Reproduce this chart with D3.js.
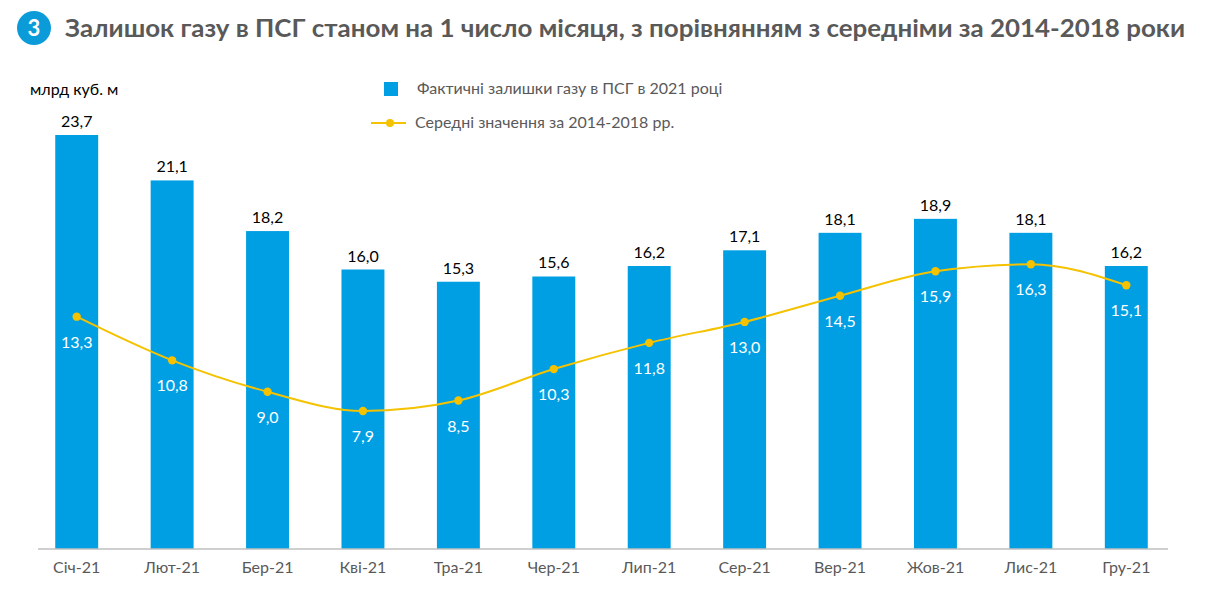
<!DOCTYPE html>
<html><head><meta charset="utf-8">
<script src="https://cdn.jsdelivr.net/npm/d3@7"></script>
<style>body{margin:0;background:#fff}svg{display:block}text{font-family:Lato,"Noto Sans",sans-serif}</style>
</head><body><svg id="c" width="1212" height="597"></svg>
<script>
const categories = ["Січ-21","Лют-21","Бер-21","Кві-21","Тра-21","Чер-21","Лип-21","Сер-21","Вер-21","Жов-21","Лис-21","Гру-21"];
const actual2021 = [23.7,21.1,18.2,16.0,15.3,15.6,16.2,17.1,18.1,18.9,18.1,16.2];
const avg2014_2018 = [13.3,10.8,9.0,7.9,8.5,10.3,11.8,13.0,14.5,15.9,16.3,15.1];
const seriesNames = ["Фактичні залишки газу в ПСГ в 2021 році","Середні значення за 2014-2018 рр."];
const titleText = "Залишок газу в ПСГ станом на 1 число місяця, з порівнянням з середніми за 2014-2018 роки";
const unitText = "млрд куб. м";

const svg = d3.select("#c");
const barColor = "#009FE3", lineColor = "#F5C200", gray = "#595959";
const fmt = v => d3.format(".1f")(v).replace(".", ",");

const x = d3.scaleBand().domain(categories).range([29,1174]).paddingInner(0.55).paddingOuter(0.275);
const y = d3.scaleLinear().domain([0,23.7]).range([549,135]);

// title
svg.append("circle").attr("cx",34).attr("cy",28).attr("r",17).attr("fill","#0A9BD8");
svg.append("text").attr("x",34).attr("y",36).attr("text-anchor","middle").attr("fill","#fff")
  .attr("font-size",22).attr("font-weight","bold").text("3");
svg.append("text").attr("x",65).attr("y",37).attr("fill",gray).attr("font-size",25).attr("font-weight","bold")
  .attr("textLength",1120).attr("lengthAdjust","spacingAndGlyphs").text(titleText);

svg.append("text").attr("x",30).attr("y",95).attr("font-size",16).attr("fill","#000").text(unitText);

// legend
svg.append("rect").attr("x",384).attr("y",82).attr("width",14).attr("height",14).attr("fill",barColor);
svg.append("text").attr("x",417).attr("y",94).attr("font-size",16).attr("fill",gray).text(seriesNames[0]);
svg.append("line").attr("x1",371).attr("x2",406).attr("y1",123).attr("y2",123).attr("stroke",lineColor).attr("stroke-width",2);
svg.append("circle").attr("cx",390).attr("cy",123).attr("r",4).attr("fill",lineColor);
svg.append("text").attr("x",415).attr("y",128).attr("font-size",16).attr("fill",gray).text(seriesNames[1]);

// bars
svg.append("g").selectAll("rect").data(actual2021).join("rect")
  .attr("x",(d,i)=>x(categories[i])).attr("width",x.bandwidth())
  .attr("y",d=>y(d)).attr("height",d=>y(0)-y(d)).attr("fill",barColor);
svg.append("g").selectAll("text").data(actual2021).join("text")
  .attr("x",(d,i)=>x(categories[i])+x.bandwidth()/2).attr("y",d=>y(d)-8)
  .attr("text-anchor","middle").attr("font-size",16).attr("fill","#000").text(fmt);

// axis
const axis = svg.append("g").attr("transform",`translate(0,${y(0)})`)
  .call(d3.axisBottom(x).tickSize(0).tickPadding(13));
axis.select(".domain").attr("stroke","#BFBFBF").attr("stroke-width",1.5).attr("d","M38,0H1168");
axis.selectAll("text").attr("font-size",16).attr("fill",gray).attr("font-family","Lato,'Noto Sans',sans-serif");

// line
const cx = (d,i)=>x(categories[i])+x.bandwidth()/2;
const line = d3.line().x(cx).y(d=>y(d)).curve(d3.curveMonotoneX);
svg.append("path").datum(avg2014_2018).attr("d",line).attr("fill","none").attr("stroke",lineColor).attr("stroke-width",2);
svg.append("g").selectAll("circle").data(avg2014_2018).join("circle")
  .attr("cx",cx).attr("cy",d=>y(d)).attr("r",4.2).attr("fill",lineColor);
svg.append("g").selectAll("text").data(avg2014_2018).join("text")
  .attr("x",cx).attr("y",d=>y(d)+31).attr("text-anchor","middle").attr("font-size",16).attr("fill","#fff").text(fmt);
</script></body></html>
